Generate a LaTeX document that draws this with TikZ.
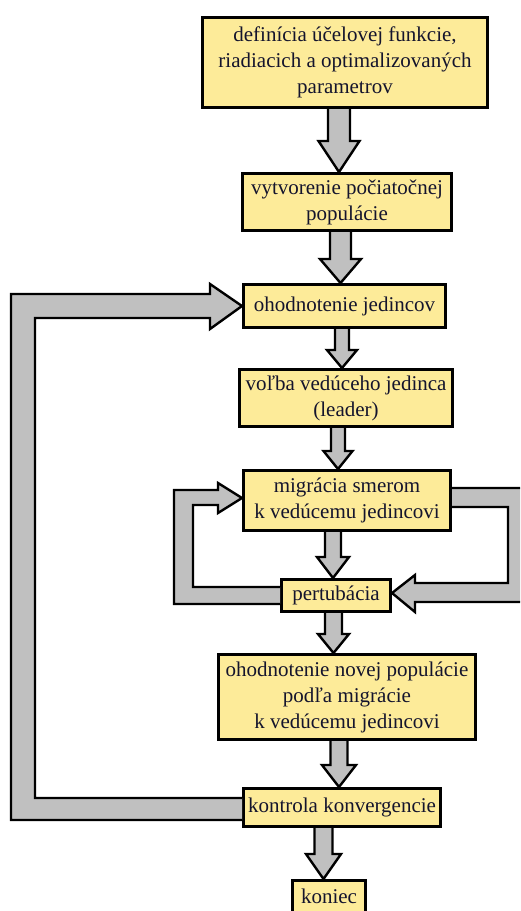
\documentclass[tikz,border=0pt]{standalone}
\usepackage{fontspec}
\setmainfont{Liberation Serif}
\usepackage{xcolor}
\usepackage{tikz}
\usetikzlibrary{calc}

\definecolor{boxyellow}{RGB}{253,235,153}
\definecolor{arrowgray}{RGB}{192,192,192}
\definecolor{textdark}{RGB}{20,20,45}

% fat downward arrow: from, to, x, shaft half width, head half width, head length
\newcommand{\fatdown}[6]{%
    \coordinate (ax) at (#3,0);
    \filldraw[fatarrow] ($(#1.south -| ax)+(-#4,0)$) -- ($(#2.north -| ax)+(-#4,-#6)$)
        -- ($(#2.north -| ax)+(-#5,-#6)$) -- (#2.north -| ax)
        -- ($(#2.north -| ax)+(#5,-#6)$) -- ($(#2.north -| ax)+(#4,-#6)$)
        -- ($(#1.south -| ax)+(#4,0)$);
}

\begin{document}
\begin{tikzpicture}[x=0.5pt, y=-0.5pt,
    box/.style={rectangle, draw, fill=boxyellow, line width=1.5pt, align=center,
                text=textdark, inner sep=1pt, font=\fontsize{10.5}{13}\selectfont},
    wh/.style 2 args={minimum width=#1*0.5pt, minimum height=#2*0.5pt},
    fatarrow/.style={draw, fill=arrowgray, line width=1.2pt}]
    \clip (0,0) rectangle (520,911);

    \node (def) [box, wh={285}{90}] at (345,62.5)
        {definícia účelovej funkcie,\\riadiacich a optimalizovaných\\parametrov};
    \node (init) [box, wh={209}{57}] at (347,202)
        {vytvorenie počiatočnej\\populácie};
    \node (eval) [box, wh={202}{43}] at (344.5,306)
        {ohodnotenie jedincov};
    \node (leader) [box, wh={213}{57}] at (346,398)
        {voľba vedúceho jedinca\\(leader)};
    \node (migr) [box, wh={207}{60}] at (347,500.5)
        {migrácia smerom\\k vedúcemu jedincovi};
    \node (pert) [box, wh={109}{32}] at (336,595.5)
        {pertubácia};
    \node (neweval) [box, wh={257}{85}] at (347,697)
        {ohodnotenie novej populácie\\podľa migrácie\\k vedúcemu jedincovi};
    \node (conv) [box, wh={197}{38}] at (342,807.5)
        {kontrola konvergencie};
    \node (end) [box, wh={73}{32}] at (329,896.5)
        {koniec};

    \fatdown{def}{init}{339}{11}{20.5}{31}
    \fatdown{init}{eval}{340.5}{10.5}{20.5}{24}
    \fatdown{eval}{leader}{342}{7}{15}{18}
    \fatdown{leader}{migr}{338}{7}{14.5}{18}
    \fatdown{migr}{pert}{333}{8}{16}{21}
    \fatdown{pert}{neweval}{333.5}{8.5}{15.5}{19}
    \fatdown{neweval}{conv}{339}{8.5}{17}{22}
    \fatdown{conv}{end}{323.5}{9}{17.5}{25}

    % small loop on the left
    \filldraw[fatarrow] ($(pert.west)+(0,8.5)$) -- (174,604) -- (174,490) -- (218,490)
        -- (218,483) -- ($(migr.west)+(0,-2.5)$) -- (218,513) -- (218,505)
        -- (193,505) -- (193,587) -- ($(pert.west)+(0,-8.5)$);
    % loop on the right
    \filldraw[fatarrow] ($(migr.east)+(0,-12.5)$) -- (527,488) -- (527,602) -- (415,602)
        -- (415,612) -- ($(pert.east)+(0,-2.5)$) -- (415,575) -- (415,583)
        -- (508,583) -- (508,507) -- ($(migr.east)+(0,6.5)$);
    % big loop back
    \filldraw[fatarrow] ($(conv.west)+(0,12.5)$) -- (11,820) -- (11,294) -- (210,294)
        -- (210,284) -- (eval.west) -- (210,329) -- (210,318)
        -- (35,318) -- (35,798) -- ($(conv.west)+(0,-9.5)$);
\end{tikzpicture}
\end{document}
